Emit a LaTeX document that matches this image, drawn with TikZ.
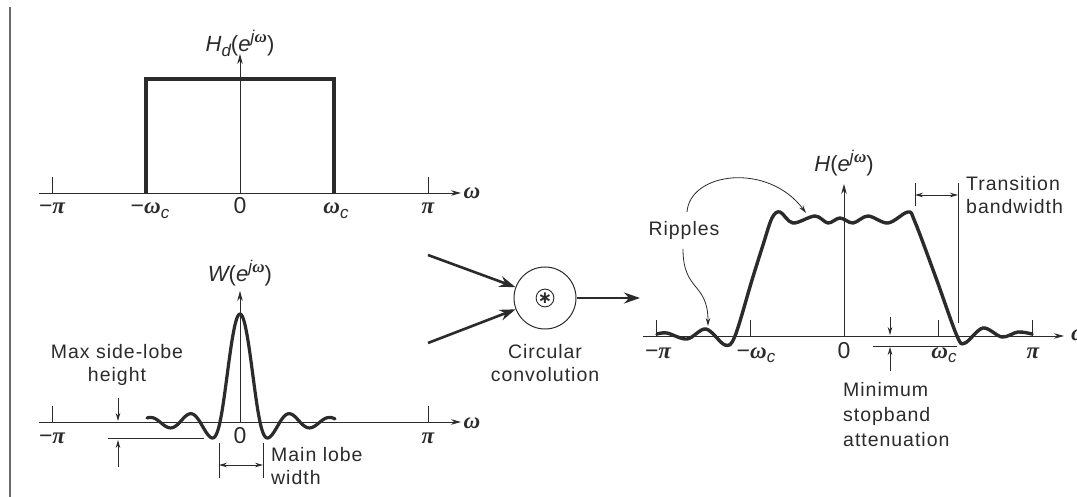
\documentclass[tikz,border=0pt]{standalone}
\usepackage{fontspec}
\setmainfont{Liberation Sans}
\newfontfamily\txtfont[LetterSpace=5]{Liberation Sans}
\newfontfamily\grk{Liberation Serif}
\newfontfamily\symfont{DejaVu Sans}
\usetikzlibrary{arrows.meta}
\definecolor{ink}{gray}{0.17}
\newcommand{\om}{{\grk\bfseries\itshape ω}}
\newcommand{\pii}{{\grk\bfseries\itshape π}}
\newcommand{\mylo}[1]{\raisebox{-5pt}{\fontsize{17}{17}\selectfont\itshape #1}}
\newcommand{\myhi}[1]{\raisebox{9pt}{\fontsize{17}{17}\selectfont #1}}
\begin{document}
\begin{tikzpicture}[x=1pt,y=-1pt,
  axis/.style={draw=ink, line width=0.9pt},
  axarrow/.style={-{Stealth[length=10pt,width=5.5pt]}},
  curve/.style={draw=ink, line width=3.4pt, line join=round, line cap=round},
  thin/.style={draw=ink, line width=0.8pt},
  small/.style={-{Stealth[length=8pt,width=4.5pt]}},
  big/.style={draw=ink, line width=2.6pt, -{Stealth[length=16pt,width=11pt]}},
  lbl/.style={font=\fontsize{23}{26}\selectfont, text=ink, inner sep=0, anchor=base},
  fn/.style={font=\fontsize{22}{24}\selectfont, text=ink, inner sep=0},
  txt/.style={font=\txtfont\fontsize{19.5}{23}\selectfont, text=ink, inner sep=0, align=center},
  ltxt/.style={font=\txtfont\fontsize{19.5}{23}\selectfont, text=ink, inner sep=0, align=left, anchor=west}]
\useasboundingbox[fill=white] (0,0) rectangle (1077,497);
% page border line
\coordinate (bt) at (10,7); \coordinate (bb) at (10,497);
\draw[draw=ink!70, line width=1.2pt] (bt) -- (bb);

% ---------------- top graph: H_d ----------------
\coordinate (A0) at (240,193);
\coordinate (Al) at (39,193); \coordinate (Ar) at (461,193);
\coordinate (Au) at (240,54);
\draw[axis, axarrow] (Al) -- (Ar);
\draw[axis, axarrow] (A0) -- (Au);
\draw[axis] (52,193) -- (52,177);
\draw[axis] (428,193) -- (428,177);
\draw[curve, line cap=butt, line join=miter] (146,193) -- (146,79) -- (334,79) -- (334,193);
\node[fn] (HdL) at (240,43) {{\itshape H}\mylo{d}(\textit{e}\myhi{\textit{j}\om})};
\node[lbl] (a1) at (52,214) {−\pii};
\node[lbl] (a2) at (150,214) {−\om\mylo{c}};
\node[lbl] (a3) at (240,214) {0};
\node[lbl] (a4) at (336,214) {\om\mylo{c}};
\node[lbl] (a5) at (428,214) {\pii};
\node[lbl] (a6) at (472,199) {\om};

% ---------------- bottom graph: W ----------------
\coordinate (B0) at (240,422);
\coordinate (Bl) at (39,422); \coordinate (Br) at (461,422);
\coordinate (Bu) at (240,291);
\draw[axis, axarrow] (Bl) -- (Br);
\draw[axis, axarrow] (B0) -- (Bu);
\draw[axis] (52,422) -- (52,406);
\draw[axis] (428,422) -- (428,406);
\begin{scope}[shift={(240,422)}]
\draw[draw=ink, line width=3.2pt, line join=round, line cap=round]
  plot[domain=-93:95, samples=250, smooth]
  (\x, {-108*sin(9*\x)/(0.15708*\x)*(0.6+0.4*exp(-(\x*\x/625)^2))});
\end{scope}
\node[fn] (WL) at (240,273) {{\itshape W}(\textit{e}\myhi{\textit{j}\om})};
\node[lbl] (b1) at (52,443) {−\pii};
\node[lbl] (b3) at (240,443) {0};
\node[lbl] (b5) at (428,443) {\pii};
\node[lbl] (b6) at (472,428) {\om};
% max side-lobe
\node[txt] (msl) at (117,365) {Max side-lobe\\height};
\coordinate (m1s) at (118,398); \coordinate (m1e) at (118,421);
\coordinate (m2s) at (118,467); \coordinate (m2e) at (118,440);
\coordinate (mhl) at (108,438); \coordinate (mhr) at (204,438);
\draw[thin, small] (m1s) -- (m1e);
\draw[thin, small] (m2s) -- (m2e);
\draw[thin] (mhl) -- (mhr);
% main lobe width
\coordinate (w1t) at (219,443); \coordinate (w1b) at (219,478);
\coordinate (w2t) at (263,443); \coordinate (w2b) at (263,478);
\coordinate (w1m) at (219,465); \coordinate (w2m) at (263,465);
\draw[thin] (w1t) -- (w1b);
\draw[thin] (w2t) -- (w2b);
\draw[thin, {Stealth[length=8pt,width=4.5pt]}-{Stealth[length=8pt,width=4.5pt]}] (w1m) -- (w2m);
\node[ltxt] (mlw) at (271,466) {Main lobe\\width};

% ---------------- circular convolution ----------------
\node[circle, draw=ink, line width=1pt, minimum size=62pt, inner sep=0] (conv) at (545,298) {};
\node[circle, draw=ink, line width=0.9pt, minimum size=17pt, inner sep=0,
      font=\symfont\fontsize{17}{17}\selectfont\bfseries, text=ink] (star) at (545,298) {∗};
\coordinate (in1) at (428,255);
\coordinate (in2) at (428,343);
\coordinate (out) at (640,298);
\draw[big] (in1) -- (conv);
\draw[big] (in2) -- (conv);
\draw[big] (conv.east) -- (out);
\node[txt] (cc) at (545,363) {Circular\\convolution};

% ---------------- right graph: H ----------------
\coordinate (C0) at (844,336);
\coordinate (Cl) at (643,336); \coordinate (Cr) at (1064,336);
\coordinate (Cu) at (844,184);
\draw[axis, axarrow] (Cl) -- (Cr);
\draw[axis, axarrow] (C0) -- (Cu);
\foreach \t in {656,750,938,1032} \draw[axis] (\t,336) -- (\t,320);
\draw[draw=ink, line width=3.4pt, line join=round, line cap=round]
  plot[smooth, tension=0.55] coordinates {
   (657,334) (667,333) (687,339) (706,329) (725,345) (735,336) (752,280)
   (763,245) (772,218) (780,212) (793,223) (815,216) (828,223) (840,218)
   (853,223) (868,216) (888,223) (908,212) (915,222) (936,278)
   (957,336) (965,343) (983,328) (1002,337) (1018,332) (1032,334)};
\node[fn] (HL) at (844,163) {{\itshape H}(\textit{e}\myhi{\textit{j}\om})};
\node[lbl] (c1) at (658,358) {−\pii};
\node[lbl] (c2) at (756,358) {−\om\mylo{c}};
\node[lbl] (c3) at (844,358) {0};
\node[lbl] (c4) at (944,358) {\om\mylo{c}};
\node[lbl] (c5) at (1033,358) {\pii};
\node[lbl, anchor=base west] (c6) at (1071,341) {\om};
% ripples
\node[txt] (rip) at (684,230) {Ripples};
\coordinate (r1s) at (687,212); \coordinate (r1e) at (806,213);
\coordinate (r2s) at (683,249); \coordinate (r2e) at (708,326);
\draw[thin, small] (r1s) .. controls (690,172) and (768,162) .. (r1e);
\draw[thin, small] (r2s) .. controls (683,292) and (708,282) .. (r2e);
% transition bandwidth
\coordinate (t1t) at (915,183); \coordinate (t1b) at (915,206);
\coordinate (t2t) at (958,183); \coordinate (t2b) at (958,323);
\coordinate (t1m) at (915,195); \coordinate (t2m) at (958,195);
\draw[thin] (t1t) -- (t1b);
\draw[thin] (t2t) -- (t2b);
\draw[thin, {Stealth[length=8pt,width=4.5pt]}-{Stealth[length=8pt,width=4.5pt]}] (t1m) -- (t2m);
\node[ltxt] (tb) at (966,195) {Transition\\bandwidth};
% minimum stopband attenuation
\node[ltxt, font=\txtfont\fontsize{19.5}{25}\selectfont] (msa) at (843,415) {Minimum\\stopband\\attenuation};
\coordinate (s1s) at (890,317); \coordinate (s1e) at (890,335);
\coordinate (s2s) at (890,371); \coordinate (s2e) at (890,347);
\coordinate (shl) at (873,346); \coordinate (shr) at (957,346);
\draw[thin, small] (s1s) -- (s1e);
\draw[thin, small] (s2s) -- (s2e);
\draw[thin] (shl) -- (shr);
\end{tikzpicture}
\end{document}
